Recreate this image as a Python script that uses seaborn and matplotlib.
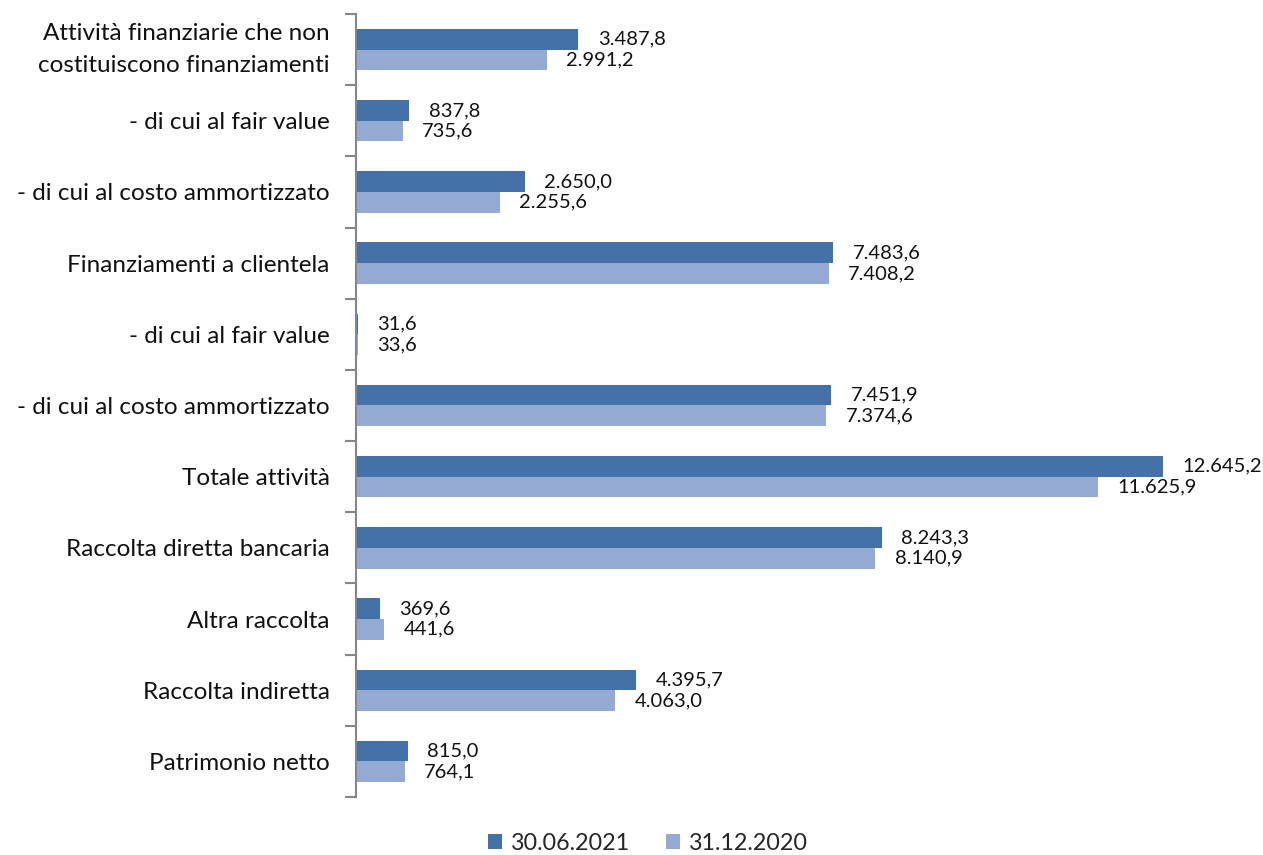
#!/usr/bin/env python3

import matplotlib
matplotlib.use("Agg")
import matplotlib.pyplot as plt
from matplotlib.ticker import FixedLocator, NullLocator
import seaborn as sns
import pandas

categories = [
    "Attività finanziarie che non\ncostituiscono finanziamenti",
    "- di cui al fair value",
    "- di cui al costo ammortizzato",
    "Finanziamenti a clientela",
    "- di cui al fair value",
    "- di cui al costo ammortizzato",
    "Totale attività",
    "Raccolta diretta bancaria",
    "Altra raccolta",
    "Raccolta indiretta",
    "Patrimonio netto",
]
series = ["30.06.2021", "31.12.2020"]
values_2021 = [3487.8, 837.8, 2650.0, 7483.6, 31.6, 7451.9, 12645.2, 8243.3, 369.6, 4395.7, 815.0]
values_2020 = [2991.2, 735.6, 2255.6, 7408.2, 33.6, 7374.6, 11625.9, 8140.9, 441.6, 4063.0, 764.1]
colors = ["#4472a8", "#95aad3"]

sns.set_style("white")
plt.rcParams["font.family"] = ["Lato", "DejaVu Sans"]


def it_fmt(v):
    # italian number format: 12.645,2
    s = "{:,.1f}".format(v)
    return s.replace(",", "X").replace(".", ",").replace("X", ".")


# categories repeat, so use a positional key for seaborn
keys = [f"c{i}" for i in range(len(categories))]
df = pandas.DataFrame(
    {
        "categoria": keys * 2,
        "valore": values_2021 + values_2020,
        "serie": [series[0]] * len(categories) + [series[1]] * len(categories),
    }
)

fig = plt.figure(figsize=(12.63, 8.55), dpi=100)
ax = fig.add_axes([356 / 1263, 1 - 797 / 855, (1249 - 356) / 1263, (797 - 14) / 855])

sns.barplot(
    data=df,
    y="categoria",
    x="valore",
    hue="serie",
    order=keys,
    hue_order=series,
    palette=colors,
    orient="h",
    width=0.58,
    gap=0,
    saturation=1,
    errorbar=None,
    linewidth=0,
    legend=True,
    ax=ax,
)

for cont in ax.containers:
    ax.bar_label(
        cont,
        labels=[it_fmt(b.get_width()) for b in cont],
        padding=14,
        fontsize=14.5,
        color="#111111",
    )

ax.set_xlim(0, 14000)
ax.set_ylim(len(categories) - 0.5, -0.5)
ax.set_xlabel("")
ax.set_ylabel("")
ax.xaxis.set_major_locator(NullLocator())
ax.set_yticks(range(len(categories)))
ax.set_yticklabels(categories, linespacing=1.6, multialignment="right")
# two-line label needs plain centring
ax.get_yticklabels()[0].set_verticalalignment("center")

for side in ["top", "right", "bottom"]:
    ax.spines[side].set_visible(False)
ax.spines["left"].set_color("#868686")
ax.spines["left"].set_linewidth(1.5)

ax.yaxis.set_minor_locator(FixedLocator([i - 0.5 for i in range(len(categories) + 1)]))
ax.tick_params(axis="y", which="major", left=True, length=0, pad=19, labelsize=17.5, labelcolor="#111111")
ax.tick_params(axis="y", which="minor", left=True, length=8, width=1.5, color="#868686", direction="out")

handles, labels = ax.get_legend_handles_labels()
ax.get_legend().remove()
fig.legend(
    handles,
    labels,
    loc="center",
    bbox_to_anchor=(648 / 1263, 1 - 843 / 855),
    ncol=2,
    frameon=False,
    fontsize=16.8,
    handlelength=0.6,
    handleheight=0.6,
    handletextpad=0.4,
    columnspacing=1.5,
)

plt.savefig("out.png", dpi=100)
plt.close()
